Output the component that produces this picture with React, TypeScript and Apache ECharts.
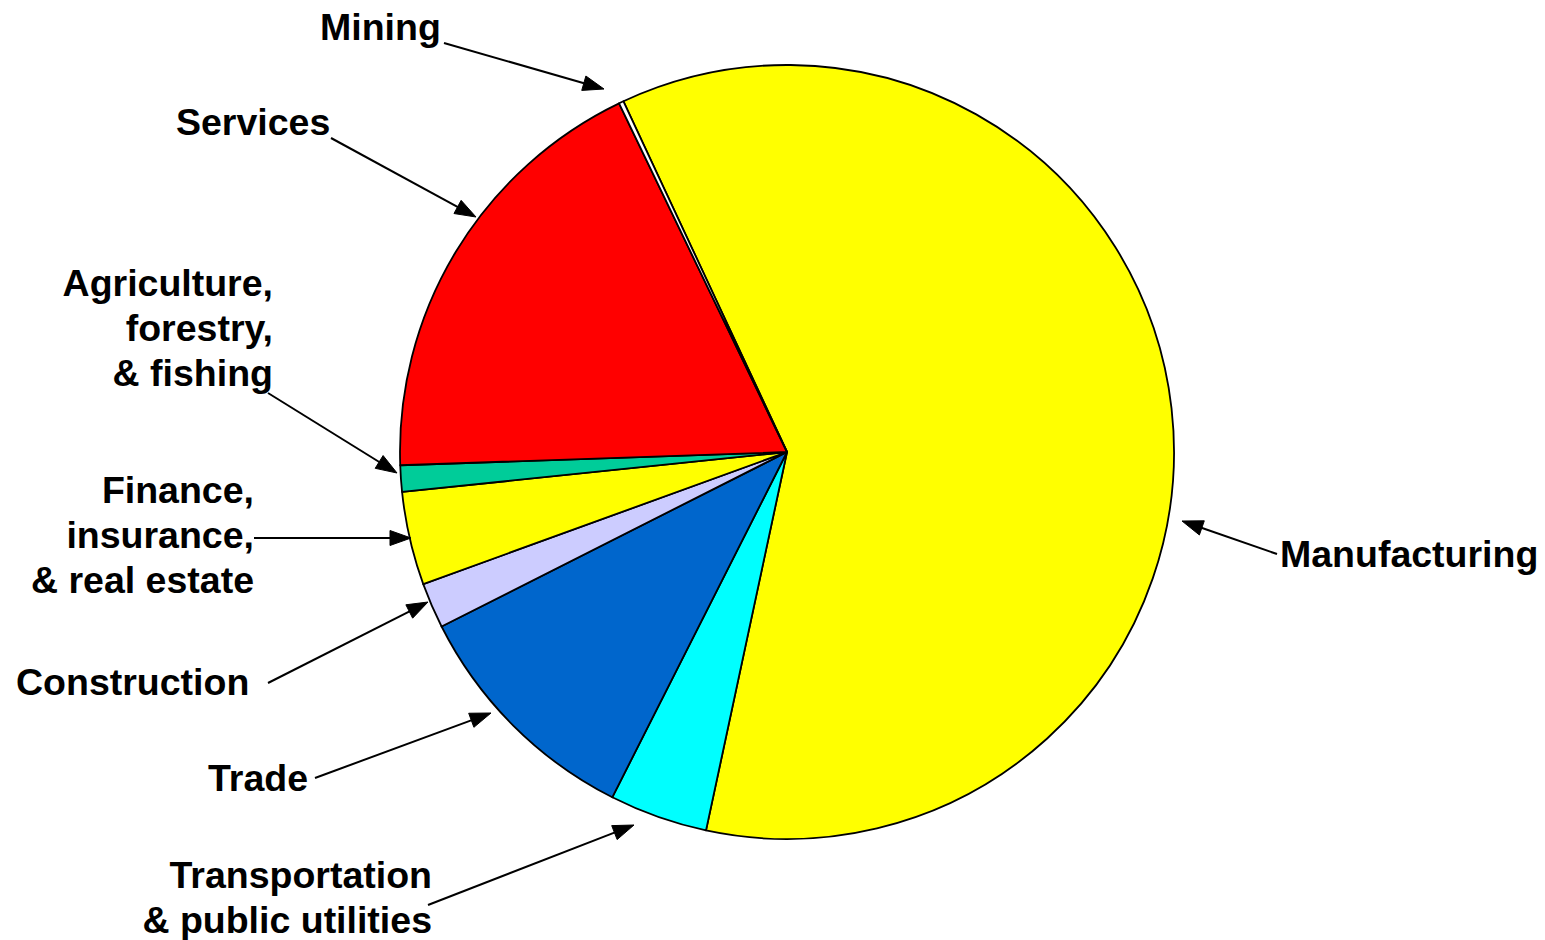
import React, { useEffect, useRef } from "react";
import * as echarts from "echarts";

const categories = [
  "Manufacturing",
  "Transportation\n& public utilities",
  "Trade",
  "Construction",
  "Finance,\ninsurance,\n& real estate",
  "Agriculture,\nforestry,\n& fishing",
  "Services",
  "Mining",
];
const shares = [60.3, 4.1, 10.1, 1.9, 3.9, 1.1, 18.4, 0.2];
const sliceColors = ["#FFFF00", "#00FFFF", "#0066CC", "#CCCCFF", "#FFFF00", "#00CC99", "#FF0000", "#FFFFFF"];

// label anchors (layout)
const labelAnchors = [
  { x: 1280, y: 554, align: "left" },
  { x: 432, y: 897, align: "right" },
  { x: 208, y: 778, align: "left" },
  { x: 16, y: 682, align: "left" },
  { x: 254, y: 535, align: "right" },
  { x: 273, y: 328, align: "right" },
  { x: 176, y: 122, align: "left" },
  { x: 320, y: 27, align: "left" },
];
// arrows: [startX, startY, tipX, tipY]
const arrows = [
  [1277, 554, 1182, 521],
  [428, 905, 634, 825],
  [315, 778, 491, 713],
  [268, 683, 428, 602],
  [254, 538, 411, 538],
  [268, 393, 397, 473],
  [331, 138, 476, 217],
  [444, 43, 604, 89],
];

function arrowGraphics() {
  const out: any[] = [];
  const len = 21;
  const half = 7.5;
  arrows.forEach(([sx, sy, tx, ty]) => {
    const dx = tx - sx;
    const dy = ty - sy;
    const d = Math.sqrt(dx * dx + dy * dy);
    const ux = dx / d;
    const uy = dy / d;
    const bx = tx - ux * len;
    const by = ty - uy * len;
    out.push({
      type: "line",
      shape: { x1: sx, y1: sy, x2: bx + ux * 2, y2: by + uy * 2 },
      style: { stroke: "#000", lineWidth: 2 },
      z: 10,
    });
    out.push({
      type: "polygon",
      shape: {
        points: [
          [tx, ty],
          [bx - uy * half, by + ux * half],
          [bx + uy * half, by - ux * half],
        ],
      },
      style: { fill: "#000", stroke: "#000", lineWidth: 1 },
      z: 10,
    });
  });
  return out;
}

export default function App() {
  const ref = useRef<HTMLDivElement>(null);
  useEffect(() => {
    if (!ref.current) return;
    const chart = echarts.init(ref.current, null, { renderer: "svg" });
    chart.setOption({
      animation: false,
      backgroundColor: "#FFFFFF",
      graphic: arrowGraphics(),
      series: [
        {
          type: "pie",
          center: [787, 452],
          radius: 387,
          startAngle: 115,
          clockwise: true,
          avoidLabelOverlap: false,
          data: categories.map((name, i) => ({
            name,
            value: shares[i],
            itemStyle: { color: sliceColors[i] },
          })),
          itemStyle: { borderColor: "#000", borderWidth: 1.8 },
          label: {
            show: true,
            position: "outside",
            formatter: "{b}",
            fontFamily: "'Liberation Sans', Arial, sans-serif",
            fontWeight: "bold",
            fontSize: 37.5,
            lineHeight: 45,
            color: "#000",
          },
          labelLine: { show: false },
          labelLayout: (params: any) => {
            const a = labelAnchors[params.dataIndex];
            return {
              x: a.x,
              y: a.y,
              align: a.align,
              verticalAlign: "middle",
              hideOverlap: false,
              moveOverlap: null,
            };
          },
          emphasis: { disabled: true },
        },
      ],
    });
    return () => chart.dispose();
  }, []);
  return (
    <div
      ref={ref}
      style={{ position: "fixed", left: 0, top: 0, width: 1545, height: 940 }}
    />
  );
}
